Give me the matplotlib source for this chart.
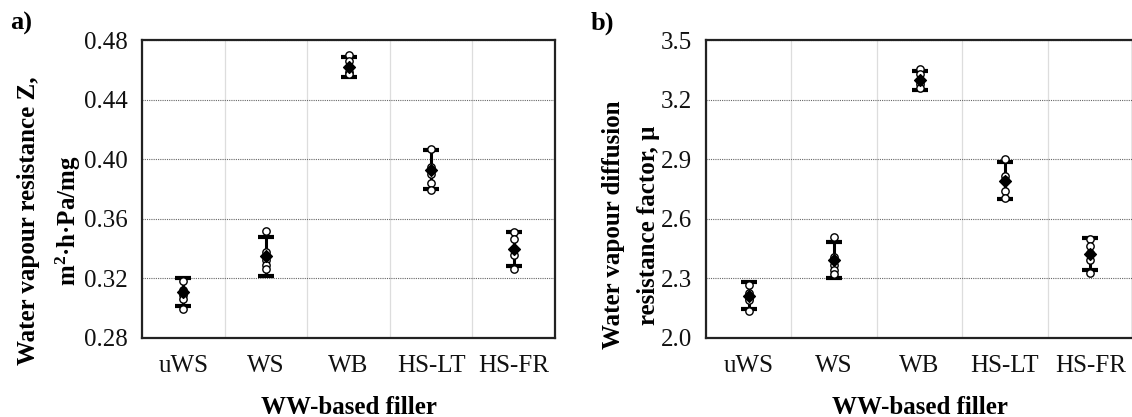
import matplotlib
matplotlib.use("Agg")
import matplotlib.pyplot as plt
import numpy as np

categories = ["uWS", "WS", "WB", "HS-LT", "HS-FR"]

# Panel a: water vapour resistance Z
z_points = [
    [0.318, 0.312, 0.309, 0.306, 0.2995],
    [0.3518, 0.338, 0.3324, 0.329, 0.3261],
    [0.470, 0.466, 0.462, 0.4587, 0.457],
    [0.4068, 0.395, 0.390, 0.3838, 0.3793],
    [0.351, 0.3462, 0.340, 0.3357, 0.3261],
]
z_mean = [0.3107, 0.3347, 0.4621, 0.3928, 0.3397]
z_err = [0.0095, 0.0129, 0.0068, 0.0131, 0.0117]
z_ticks = [0.28, 0.32, 0.36, 0.40, 0.44, 0.48]

# Panel b: water vapour diffusion resistance factor mu
mu_points = [
    [2.267, 2.225, 2.200, 2.191, 2.136],
    [2.510, 2.410, 2.367, 2.342, 2.322],
    [3.352, 3.330, 3.300, 3.280, 3.260],
    [2.901, 2.817, 2.795, 2.740, 2.706],
    [2.500, 2.463, 2.426, 2.393, 2.326],
]
mu_mean = [2.213, 2.391, 3.297, 2.792, 2.422]
mu_err = [0.067, 0.091, 0.049, 0.092, 0.080]
mu_ticks = [2.0, 2.3, 2.6, 2.9, 3.2, 3.5]

plt.rcParams['font.family'] = ['Liberation Serif', 'DejaVu Serif']
plt.rcParams['mathtext.fontset'] = 'custom'
plt.rcParams['mathtext.rm'] = 'Liberation Serif'
plt.rcParams['mathtext.bf'] = 'Liberation Serif:bold'

FS = 18

W, H = 1132, 417
fig = plt.figure(figsize=(W / 100, H / 100), dpi=100)

def px_axes(l, r, t, b):
    return fig.add_axes([l / W, 1 - b / H, (r - l) / W, (b - t) / H])

ax_a = px_axes(142, 555, 40, 338)
ax_b = px_axes(706, 1133, 40, 338)

def draw(ax, points, mean, err, ticks, fmt):
    x = np.arange(len(categories))
    ax.set_xlim(-0.5, len(categories) - 0.5)
    ax.set_ylim(ticks[0], ticks[-1])
    ax.set_yticks(ticks)
    ax.set_yticklabels([fmt.format(t) for t in ticks])
    ax.set_xticks(x)
    ax.set_xticklabels(categories)
    ax.set_xticks(np.arange(-0.5, len(categories), 0.5), minor=True)
    ax.tick_params(axis='both', which='both', length=0, labelsize=FS, colors='#111111')
    ax.tick_params(axis='y', pad=10)
    ax.tick_params(axis='x', pad=12)
    ax.grid(axis='y', which='major', color='#666666', linestyle=(0, (1, 1)), linewidth=0.8)
    ax.grid(axis='x', which='minor', color='#dddddd', linestyle='-', linewidth=0.9)
    ax.set_axisbelow(True)
    for s in ax.spines.values():
        s.set_linewidth(1.6)
        s.set_color('#222222')
    ax.errorbar(x, mean, yerr=err, fmt='none', ecolor='black', elinewidth=2.2,
                capsize=6, capthick=3, zorder=3)
    for xi, pts in zip(x, points):
        ax.scatter([xi] * len(pts), pts, s=28, facecolor='white', edgecolor='black',
                   linewidth=1.0, zorder=4)
    ax.scatter(x, mean, marker='D', s=36, color='black', zorder=5)
    ax.set_xlabel("WW-based filler", fontsize=FS, fontweight='bold', labelpad=14)

draw(ax_a, z_points, z_mean, z_err, z_ticks, "{:.2f}")
draw(ax_b, mu_points, mu_mean, mu_err, mu_ticks, "{:.1f}")

ax_a.set_ylabel("Water vapour resistance Z,\nm$\\mathbf{^2}$·h·Pa/mg", fontsize=FS,
                fontweight='bold', linespacing=1.62)
ax_a.yaxis.set_label_coords((83 - 142) / 413, (338 - 221) / 298)
ax_b.set_ylabel("Water vapour diffusion\nresistance factor, μ", fontsize=FS,
                fontweight='bold', linespacing=1.64)
ax_b.yaxis.set_label_coords((660 - 706) / 427, (338 - 225) / 298)

fig.text(10 / W, 1 - 23 / H, "a)", fontsize=19, fontweight='bold', va='center', ha='left')
fig.text(591 / W, 1 - 23 / H, "b)", fontsize=19, fontweight='bold', va='center', ha='left')

fig.savefig("out.png", dpi=100)
